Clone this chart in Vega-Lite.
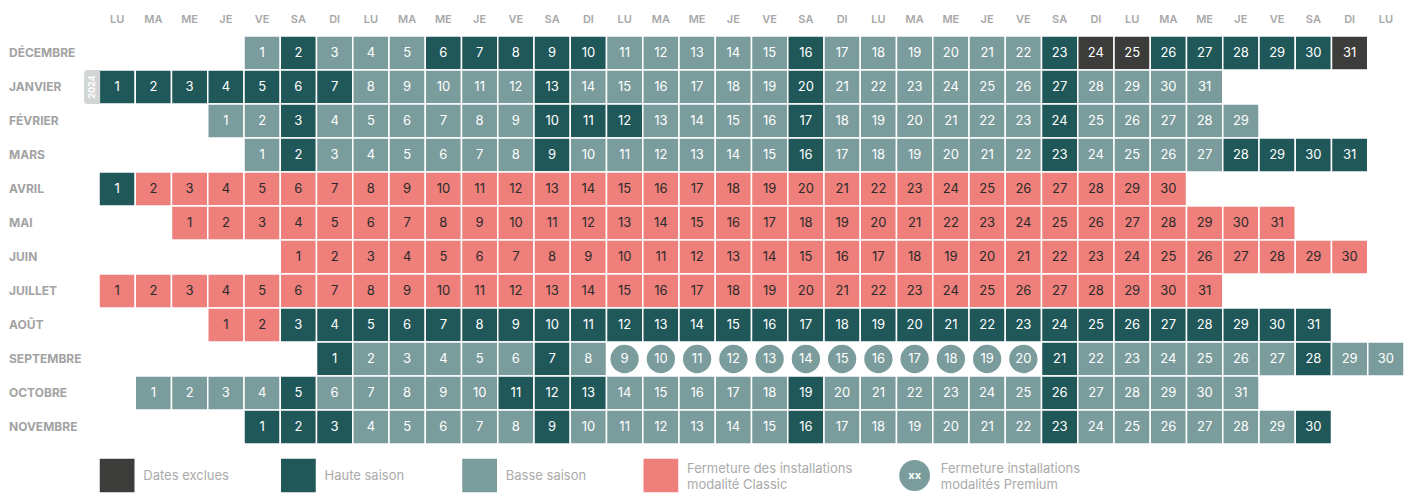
{
"$schema": "https://vega.github.io/schema/vega-lite/v6.json",
"padding": {"left": 8, "top": 13, "right": 0, "bottom": 0},
"spacing": 12,
"config": {"view": {"stroke": null}, "font": "Inter"},
"datasets": {
"cal": [
{"m":"DÉCEMBRE","d":1,"c":4,"k":"B"},{"m":"DÉCEMBRE","d":2,"c":5,"k":"H"},{"m":"DÉCEMBRE","d":3,"c":6,"k":"B"},{"m":"DÉCEMBRE","d":4,"c":7,"k":"B"},{"m":"DÉCEMBRE","d":5,"c":8,"k":"B"},{"m":"DÉCEMBRE","d":6,"c":9,"k":"H"},{"m":"DÉCEMBRE","d":7,"c":10,"k":"H"},{"m":"DÉCEMBRE","d":8,"c":11,"k":"H"},{"m":"DÉCEMBRE","d":9,"c":12,"k":"H"},{"m":"DÉCEMBRE","d":10,"c":13,"k":"H"},{"m":"DÉCEMBRE","d":11,"c":14,"k":"B"},{"m":"DÉCEMBRE","d":12,"c":15,"k":"B"},{"m":"DÉCEMBRE","d":13,"c":16,"k":"B"},{"m":"DÉCEMBRE","d":14,"c":17,"k":"B"},{"m":"DÉCEMBRE","d":15,"c":18,"k":"B"},{"m":"DÉCEMBRE","d":16,"c":19,"k":"H"},{"m":"DÉCEMBRE","d":17,"c":20,"k":"B"},{"m":"DÉCEMBRE","d":18,"c":21,"k":"B"},{"m":"DÉCEMBRE","d":19,"c":22,"k":"B"},{"m":"DÉCEMBRE","d":20,"c":23,"k":"B"},{"m":"DÉCEMBRE","d":21,"c":24,"k":"B"},{"m":"DÉCEMBRE","d":22,"c":25,"k":"B"},{"m":"DÉCEMBRE","d":23,"c":26,"k":"H"},{"m":"DÉCEMBRE","d":24,"c":27,"k":"E"},{"m":"DÉCEMBRE","d":25,"c":28,"k":"E"},{"m":"DÉCEMBRE","d":26,"c":29,"k":"H"},{"m":"DÉCEMBRE","d":27,"c":30,"k":"H"},{"m":"DÉCEMBRE","d":28,"c":31,"k":"H"},{"m":"DÉCEMBRE","d":29,"c":32,"k":"H"},{"m":"DÉCEMBRE","d":30,"c":33,"k":"H"},{"m":"DÉCEMBRE","d":31,"c":34,"k":"E"},
{"m":"JANVIER","d":1,"c":0,"k":"H"},{"m":"JANVIER","d":2,"c":1,"k":"H"},{"m":"JANVIER","d":3,"c":2,"k":"H"},{"m":"JANVIER","d":4,"c":3,"k":"H"},{"m":"JANVIER","d":5,"c":4,"k":"H"},{"m":"JANVIER","d":6,"c":5,"k":"H"},{"m":"JANVIER","d":7,"c":6,"k":"H"},{"m":"JANVIER","d":8,"c":7,"k":"B"},{"m":"JANVIER","d":9,"c":8,"k":"B"},{"m":"JANVIER","d":10,"c":9,"k":"B"},{"m":"JANVIER","d":11,"c":10,"k":"B"},{"m":"JANVIER","d":12,"c":11,"k":"B"},{"m":"JANVIER","d":13,"c":12,"k":"H"},{"m":"JANVIER","d":14,"c":13,"k":"B"},{"m":"JANVIER","d":15,"c":14,"k":"B"},{"m":"JANVIER","d":16,"c":15,"k":"B"},{"m":"JANVIER","d":17,"c":16,"k":"B"},{"m":"JANVIER","d":18,"c":17,"k":"B"},{"m":"JANVIER","d":19,"c":18,"k":"B"},{"m":"JANVIER","d":20,"c":19,"k":"H"},{"m":"JANVIER","d":21,"c":20,"k":"B"},{"m":"JANVIER","d":22,"c":21,"k":"B"},{"m":"JANVIER","d":23,"c":22,"k":"B"},{"m":"JANVIER","d":24,"c":23,"k":"B"},{"m":"JANVIER","d":25,"c":24,"k":"B"},{"m":"JANVIER","d":26,"c":25,"k":"B"},{"m":"JANVIER","d":27,"c":26,"k":"H"},{"m":"JANVIER","d":28,"c":27,"k":"B"},{"m":"JANVIER","d":29,"c":28,"k":"B"},{"m":"JANVIER","d":30,"c":29,"k":"B"},{"m":"JANVIER","d":31,"c":30,"k":"B"},
{"m":"FÉVRIER","d":1,"c":3,"k":"B"},{"m":"FÉVRIER","d":2,"c":4,"k":"B"},{"m":"FÉVRIER","d":3,"c":5,"k":"H"},{"m":"FÉVRIER","d":4,"c":6,"k":"B"},{"m":"FÉVRIER","d":5,"c":7,"k":"B"},{"m":"FÉVRIER","d":6,"c":8,"k":"B"},{"m":"FÉVRIER","d":7,"c":9,"k":"B"},{"m":"FÉVRIER","d":8,"c":10,"k":"B"},{"m":"FÉVRIER","d":9,"c":11,"k":"B"},{"m":"FÉVRIER","d":10,"c":12,"k":"H"},{"m":"FÉVRIER","d":11,"c":13,"k":"H"},{"m":"FÉVRIER","d":12,"c":14,"k":"H"},{"m":"FÉVRIER","d":13,"c":15,"k":"B"},{"m":"FÉVRIER","d":14,"c":16,"k":"B"},{"m":"FÉVRIER","d":15,"c":17,"k":"B"},{"m":"FÉVRIER","d":16,"c":18,"k":"B"},{"m":"FÉVRIER","d":17,"c":19,"k":"H"},{"m":"FÉVRIER","d":18,"c":20,"k":"B"},{"m":"FÉVRIER","d":19,"c":21,"k":"B"},{"m":"FÉVRIER","d":20,"c":22,"k":"B"},{"m":"FÉVRIER","d":21,"c":23,"k":"B"},{"m":"FÉVRIER","d":22,"c":24,"k":"B"},{"m":"FÉVRIER","d":23,"c":25,"k":"B"},{"m":"FÉVRIER","d":24,"c":26,"k":"H"},{"m":"FÉVRIER","d":25,"c":27,"k":"B"},{"m":"FÉVRIER","d":26,"c":28,"k":"B"},{"m":"FÉVRIER","d":27,"c":29,"k":"B"},{"m":"FÉVRIER","d":28,"c":30,"k":"B"},{"m":"FÉVRIER","d":29,"c":31,"k":"B"},
{"m":"MARS","d":1,"c":4,"k":"B"},{"m":"MARS","d":2,"c":5,"k":"H"},{"m":"MARS","d":3,"c":6,"k":"B"},{"m":"MARS","d":4,"c":7,"k":"B"},{"m":"MARS","d":5,"c":8,"k":"B"},{"m":"MARS","d":6,"c":9,"k":"B"},{"m":"MARS","d":7,"c":10,"k":"B"},{"m":"MARS","d":8,"c":11,"k":"B"},{"m":"MARS","d":9,"c":12,"k":"H"},{"m":"MARS","d":10,"c":13,"k":"B"},{"m":"MARS","d":11,"c":14,"k":"B"},{"m":"MARS","d":12,"c":15,"k":"B"},{"m":"MARS","d":13,"c":16,"k":"B"},{"m":"MARS","d":14,"c":17,"k":"B"},{"m":"MARS","d":15,"c":18,"k":"B"},{"m":"MARS","d":16,"c":19,"k":"H"},{"m":"MARS","d":17,"c":20,"k":"B"},{"m":"MARS","d":18,"c":21,"k":"B"},{"m":"MARS","d":19,"c":22,"k":"B"},{"m":"MARS","d":20,"c":23,"k":"B"},{"m":"MARS","d":21,"c":24,"k":"B"},{"m":"MARS","d":22,"c":25,"k":"B"},{"m":"MARS","d":23,"c":26,"k":"H"},{"m":"MARS","d":24,"c":27,"k":"B"},{"m":"MARS","d":25,"c":28,"k":"B"},{"m":"MARS","d":26,"c":29,"k":"B"},{"m":"MARS","d":27,"c":30,"k":"B"},{"m":"MARS","d":28,"c":31,"k":"H"},{"m":"MARS","d":29,"c":32,"k":"H"},{"m":"MARS","d":30,"c":33,"k":"H"},{"m":"MARS","d":31,"c":34,"k":"H"},
{"m":"AVRIL","d":1,"c":0,"k":"H"},{"m":"AVRIL","d":2,"c":1,"k":"C"},{"m":"AVRIL","d":3,"c":2,"k":"C"},{"m":"AVRIL","d":4,"c":3,"k":"C"},{"m":"AVRIL","d":5,"c":4,"k":"C"},{"m":"AVRIL","d":6,"c":5,"k":"C"},{"m":"AVRIL","d":7,"c":6,"k":"C"},{"m":"AVRIL","d":8,"c":7,"k":"C"},{"m":"AVRIL","d":9,"c":8,"k":"C"},{"m":"AVRIL","d":10,"c":9,"k":"C"},{"m":"AVRIL","d":11,"c":10,"k":"C"},{"m":"AVRIL","d":12,"c":11,"k":"C"},{"m":"AVRIL","d":13,"c":12,"k":"C"},{"m":"AVRIL","d":14,"c":13,"k":"C"},{"m":"AVRIL","d":15,"c":14,"k":"C"},{"m":"AVRIL","d":16,"c":15,"k":"C"},{"m":"AVRIL","d":17,"c":16,"k":"C"},{"m":"AVRIL","d":18,"c":17,"k":"C"},{"m":"AVRIL","d":19,"c":18,"k":"C"},{"m":"AVRIL","d":20,"c":19,"k":"C"},{"m":"AVRIL","d":21,"c":20,"k":"C"},{"m":"AVRIL","d":22,"c":21,"k":"C"},{"m":"AVRIL","d":23,"c":22,"k":"C"},{"m":"AVRIL","d":24,"c":23,"k":"C"},{"m":"AVRIL","d":25,"c":24,"k":"C"},{"m":"AVRIL","d":26,"c":25,"k":"C"},{"m":"AVRIL","d":27,"c":26,"k":"C"},{"m":"AVRIL","d":28,"c":27,"k":"C"},{"m":"AVRIL","d":29,"c":28,"k":"C"},{"m":"AVRIL","d":30,"c":29,"k":"C"},
{"m":"MAI","d":1,"c":2,"k":"C"},{"m":"MAI","d":2,"c":3,"k":"C"},{"m":"MAI","d":3,"c":4,"k":"C"},{"m":"MAI","d":4,"c":5,"k":"C"},{"m":"MAI","d":5,"c":6,"k":"C"},{"m":"MAI","d":6,"c":7,"k":"C"},{"m":"MAI","d":7,"c":8,"k":"C"},{"m":"MAI","d":8,"c":9,"k":"C"},{"m":"MAI","d":9,"c":10,"k":"C"},{"m":"MAI","d":10,"c":11,"k":"C"},{"m":"MAI","d":11,"c":12,"k":"C"},{"m":"MAI","d":12,"c":13,"k":"C"},{"m":"MAI","d":13,"c":14,"k":"C"},{"m":"MAI","d":14,"c":15,"k":"C"},{"m":"MAI","d":15,"c":16,"k":"C"},{"m":"MAI","d":16,"c":17,"k":"C"},{"m":"MAI","d":17,"c":18,"k":"C"},{"m":"MAI","d":18,"c":19,"k":"C"},{"m":"MAI","d":19,"c":20,"k":"C"},{"m":"MAI","d":20,"c":21,"k":"C"},{"m":"MAI","d":21,"c":22,"k":"C"},{"m":"MAI","d":22,"c":23,"k":"C"},{"m":"MAI","d":23,"c":24,"k":"C"},{"m":"MAI","d":24,"c":25,"k":"C"},{"m":"MAI","d":25,"c":26,"k":"C"},{"m":"MAI","d":26,"c":27,"k":"C"},{"m":"MAI","d":27,"c":28,"k":"C"},{"m":"MAI","d":28,"c":29,"k":"C"},{"m":"MAI","d":29,"c":30,"k":"C"},{"m":"MAI","d":30,"c":31,"k":"C"},{"m":"MAI","d":31,"c":32,"k":"C"},
{"m":"JUIN","d":1,"c":5,"k":"C"},{"m":"JUIN","d":2,"c":6,"k":"C"},{"m":"JUIN","d":3,"c":7,"k":"C"},{"m":"JUIN","d":4,"c":8,"k":"C"},{"m":"JUIN","d":5,"c":9,"k":"C"},{"m":"JUIN","d":6,"c":10,"k":"C"},{"m":"JUIN","d":7,"c":11,"k":"C"},{"m":"JUIN","d":8,"c":12,"k":"C"},{"m":"JUIN","d":9,"c":13,"k":"C"},{"m":"JUIN","d":10,"c":14,"k":"C"},{"m":"JUIN","d":11,"c":15,"k":"C"},{"m":"JUIN","d":12,"c":16,"k":"C"},{"m":"JUIN","d":13,"c":17,"k":"C"},{"m":"JUIN","d":14,"c":18,"k":"C"},{"m":"JUIN","d":15,"c":19,"k":"C"},{"m":"JUIN","d":16,"c":20,"k":"C"},{"m":"JUIN","d":17,"c":21,"k":"C"},{"m":"JUIN","d":18,"c":22,"k":"C"},{"m":"JUIN","d":19,"c":23,"k":"C"},{"m":"JUIN","d":20,"c":24,"k":"C"},{"m":"JUIN","d":21,"c":25,"k":"C"},{"m":"JUIN","d":22,"c":26,"k":"C"},{"m":"JUIN","d":23,"c":27,"k":"C"},{"m":"JUIN","d":24,"c":28,"k":"C"},{"m":"JUIN","d":25,"c":29,"k":"C"},{"m":"JUIN","d":26,"c":30,"k":"C"},{"m":"JUIN","d":27,"c":31,"k":"C"},{"m":"JUIN","d":28,"c":32,"k":"C"},{"m":"JUIN","d":29,"c":33,"k":"C"},{"m":"JUIN","d":30,"c":34,"k":"C"},
{"m":"JUILLET","d":1,"c":0,"k":"C"},{"m":"JUILLET","d":2,"c":1,"k":"C"},{"m":"JUILLET","d":3,"c":2,"k":"C"},{"m":"JUILLET","d":4,"c":3,"k":"C"},{"m":"JUILLET","d":5,"c":4,"k":"C"},{"m":"JUILLET","d":6,"c":5,"k":"C"},{"m":"JUILLET","d":7,"c":6,"k":"C"},{"m":"JUILLET","d":8,"c":7,"k":"C"},{"m":"JUILLET","d":9,"c":8,"k":"C"},{"m":"JUILLET","d":10,"c":9,"k":"C"},{"m":"JUILLET","d":11,"c":10,"k":"C"},{"m":"JUILLET","d":12,"c":11,"k":"C"},{"m":"JUILLET","d":13,"c":12,"k":"C"},{"m":"JUILLET","d":14,"c":13,"k":"C"},{"m":"JUILLET","d":15,"c":14,"k":"C"},{"m":"JUILLET","d":16,"c":15,"k":"C"},{"m":"JUILLET","d":17,"c":16,"k":"C"},{"m":"JUILLET","d":18,"c":17,"k":"C"},{"m":"JUILLET","d":19,"c":18,"k":"C"},{"m":"JUILLET","d":20,"c":19,"k":"C"},{"m":"JUILLET","d":21,"c":20,"k":"C"},{"m":"JUILLET","d":22,"c":21,"k":"C"},{"m":"JUILLET","d":23,"c":22,"k":"C"},{"m":"JUILLET","d":24,"c":23,"k":"C"},{"m":"JUILLET","d":25,"c":24,"k":"C"},{"m":"JUILLET","d":26,"c":25,"k":"C"},{"m":"JUILLET","d":27,"c":26,"k":"C"},{"m":"JUILLET","d":28,"c":27,"k":"C"},{"m":"JUILLET","d":29,"c":28,"k":"C"},{"m":"JUILLET","d":30,"c":29,"k":"C"},{"m":"JUILLET","d":31,"c":30,"k":"C"},
{"m":"AOÛT","d":1,"c":3,"k":"C"},{"m":"AOÛT","d":2,"c":4,"k":"C"},{"m":"AOÛT","d":3,"c":5,"k":"H"},{"m":"AOÛT","d":4,"c":6,"k":"H"},{"m":"AOÛT","d":5,"c":7,"k":"H"},{"m":"AOÛT","d":6,"c":8,"k":"H"},{"m":"AOÛT","d":7,"c":9,"k":"H"},{"m":"AOÛT","d":8,"c":10,"k":"H"},{"m":"AOÛT","d":9,"c":11,"k":"H"},{"m":"AOÛT","d":10,"c":12,"k":"H"},{"m":"AOÛT","d":11,"c":13,"k":"H"},{"m":"AOÛT","d":12,"c":14,"k":"H"},{"m":"AOÛT","d":13,"c":15,"k":"H"},{"m":"AOÛT","d":14,"c":16,"k":"H"},{"m":"AOÛT","d":15,"c":17,"k":"H"},{"m":"AOÛT","d":16,"c":18,"k":"H"},{"m":"AOÛT","d":17,"c":19,"k":"H"},{"m":"AOÛT","d":18,"c":20,"k":"H"},{"m":"AOÛT","d":19,"c":21,"k":"H"},{"m":"AOÛT","d":20,"c":22,"k":"H"},{"m":"AOÛT","d":21,"c":23,"k":"H"},{"m":"AOÛT","d":22,"c":24,"k":"H"},{"m":"AOÛT","d":23,"c":25,"k":"H"},{"m":"AOÛT","d":24,"c":26,"k":"H"},{"m":"AOÛT","d":25,"c":27,"k":"H"},{"m":"AOÛT","d":26,"c":28,"k":"H"},{"m":"AOÛT","d":27,"c":29,"k":"H"},{"m":"AOÛT","d":28,"c":30,"k":"H"},{"m":"AOÛT","d":29,"c":31,"k":"H"},{"m":"AOÛT","d":30,"c":32,"k":"H"},{"m":"AOÛT","d":31,"c":33,"k":"H"},
{"m":"SEPTEMBRE","d":1,"c":6,"k":"H"},{"m":"SEPTEMBRE","d":2,"c":7,"k":"B"},{"m":"SEPTEMBRE","d":3,"c":8,"k":"B"},{"m":"SEPTEMBRE","d":4,"c":9,"k":"B"},{"m":"SEPTEMBRE","d":5,"c":10,"k":"B"},{"m":"SEPTEMBRE","d":6,"c":11,"k":"B"},{"m":"SEPTEMBRE","d":7,"c":12,"k":"H"},{"m":"SEPTEMBRE","d":8,"c":13,"k":"B"},{"m":"SEPTEMBRE","d":9,"c":14,"k":"P"},{"m":"SEPTEMBRE","d":10,"c":15,"k":"P"},{"m":"SEPTEMBRE","d":11,"c":16,"k":"P"},{"m":"SEPTEMBRE","d":12,"c":17,"k":"P"},{"m":"SEPTEMBRE","d":13,"c":18,"k":"P"},{"m":"SEPTEMBRE","d":14,"c":19,"k":"P"},{"m":"SEPTEMBRE","d":15,"c":20,"k":"P"},{"m":"SEPTEMBRE","d":16,"c":21,"k":"P"},{"m":"SEPTEMBRE","d":17,"c":22,"k":"P"},{"m":"SEPTEMBRE","d":18,"c":23,"k":"P"},{"m":"SEPTEMBRE","d":19,"c":24,"k":"P"},{"m":"SEPTEMBRE","d":20,"c":25,"k":"P"},{"m":"SEPTEMBRE","d":21,"c":26,"k":"H"},{"m":"SEPTEMBRE","d":22,"c":27,"k":"B"},{"m":"SEPTEMBRE","d":23,"c":28,"k":"B"},{"m":"SEPTEMBRE","d":24,"c":29,"k":"B"},{"m":"SEPTEMBRE","d":25,"c":30,"k":"B"},{"m":"SEPTEMBRE","d":26,"c":31,"k":"B"},{"m":"SEPTEMBRE","d":27,"c":32,"k":"B"},{"m":"SEPTEMBRE","d":28,"c":33,"k":"H"},{"m":"SEPTEMBRE","d":29,"c":34,"k":"B"},{"m":"SEPTEMBRE","d":30,"c":35,"k":"B"},
{"m":"OCTOBRE","d":1,"c":1,"k":"B"},{"m":"OCTOBRE","d":2,"c":2,"k":"B"},{"m":"OCTOBRE","d":3,"c":3,"k":"B"},{"m":"OCTOBRE","d":4,"c":4,"k":"B"},{"m":"OCTOBRE","d":5,"c":5,"k":"H"},{"m":"OCTOBRE","d":6,"c":6,"k":"B"},{"m":"OCTOBRE","d":7,"c":7,"k":"B"},{"m":"OCTOBRE","d":8,"c":8,"k":"B"},{"m":"OCTOBRE","d":9,"c":9,"k":"B"},{"m":"OCTOBRE","d":10,"c":10,"k":"B"},{"m":"OCTOBRE","d":11,"c":11,"k":"H"},{"m":"OCTOBRE","d":12,"c":12,"k":"H"},{"m":"OCTOBRE","d":13,"c":13,"k":"H"},{"m":"OCTOBRE","d":14,"c":14,"k":"B"},{"m":"OCTOBRE","d":15,"c":15,"k":"B"},{"m":"OCTOBRE","d":16,"c":16,"k":"B"},{"m":"OCTOBRE","d":17,"c":17,"k":"B"},{"m":"OCTOBRE","d":18,"c":18,"k":"B"},{"m":"OCTOBRE","d":19,"c":19,"k":"H"},{"m":"OCTOBRE","d":20,"c":20,"k":"B"},{"m":"OCTOBRE","d":21,"c":21,"k":"B"},{"m":"OCTOBRE","d":22,"c":22,"k":"B"},{"m":"OCTOBRE","d":23,"c":23,"k":"B"},{"m":"OCTOBRE","d":24,"c":24,"k":"B"},{"m":"OCTOBRE","d":25,"c":25,"k":"B"},{"m":"OCTOBRE","d":26,"c":26,"k":"H"},{"m":"OCTOBRE","d":27,"c":27,"k":"B"},{"m":"OCTOBRE","d":28,"c":28,"k":"B"},{"m":"OCTOBRE","d":29,"c":29,"k":"B"},{"m":"OCTOBRE","d":30,"c":30,"k":"B"},{"m":"OCTOBRE","d":31,"c":31,"k":"B"},
{"m":"NOVEMBRE","d":1,"c":4,"k":"H"},{"m":"NOVEMBRE","d":2,"c":5,"k":"H"},{"m":"NOVEMBRE","d":3,"c":6,"k":"H"},{"m":"NOVEMBRE","d":4,"c":7,"k":"B"},{"m":"NOVEMBRE","d":5,"c":8,"k":"B"},{"m":"NOVEMBRE","d":6,"c":9,"k":"B"},{"m":"NOVEMBRE","d":7,"c":10,"k":"B"},{"m":"NOVEMBRE","d":8,"c":11,"k":"B"},{"m":"NOVEMBRE","d":9,"c":12,"k":"H"},{"m":"NOVEMBRE","d":10,"c":13,"k":"B"},{"m":"NOVEMBRE","d":11,"c":14,"k":"B"},{"m":"NOVEMBRE","d":12,"c":15,"k":"B"},{"m":"NOVEMBRE","d":13,"c":16,"k":"B"},{"m":"NOVEMBRE","d":14,"c":17,"k":"B"},{"m":"NOVEMBRE","d":15,"c":18,"k":"B"},{"m":"NOVEMBRE","d":16,"c":19,"k":"H"},{"m":"NOVEMBRE","d":17,"c":20,"k":"B"},{"m":"NOVEMBRE","d":18,"c":21,"k":"B"},{"m":"NOVEMBRE","d":19,"c":22,"k":"B"},{"m":"NOVEMBRE","d":20,"c":23,"k":"B"},{"m":"NOVEMBRE","d":21,"c":24,"k":"B"},{"m":"NOVEMBRE","d":22,"c":25,"k":"B"},{"m":"NOVEMBRE","d":23,"c":26,"k":"H"},{"m":"NOVEMBRE","d":24,"c":27,"k":"B"},{"m":"NOVEMBRE","d":25,"c":28,"k":"B"},{"m":"NOVEMBRE","d":26,"c":29,"k":"B"},{"m":"NOVEMBRE","d":27,"c":30,"k":"B"},{"m":"NOVEMBRE","d":28,"c":31,"k":"B"},{"m":"NOVEMBRE","d":29,"c":32,"k":"B"},{"m":"NOVEMBRE","d":30,"c":33,"k":"H"}
],
"leg": [
{"c":0,"k":"E","label":"Dates exclues"},
{"c":5,"k":"H","label":"Haute saison"},
{"c":10,"k":"B","label":"Basse saison"},
{"c":15,"k":"C","label":"Fermeture des installations\nmodalité Classic"},
{"c":22,"k":"P","label":"Fermeture installations\nmodalités Premium","sym":"xx"}
]
},
"vconcat": [
{
"width": 1305,
"height": 408,
"data": {"name": "cal"},
"encoding": {
"x": {"field": "c", "type": "ordinal",
"scale": {"domain": [0,1,2,3,4,5,6,7,8,9,10,11,12,13,14,15,16,17,18,19,20,21,22,23,24,25,26,27,28,29,30,31,32,33,34,35], "paddingInner": 0, "paddingOuter": 0},
"axis": {"orient": "top", "title": null, "domain": false, "ticks": false, "tickSize": 0, "labelPadding": 12, "labelAngle": 0,
"labelExpr": "['LU','MA','ME','JE','VE','SA','DI'][datum.value % 7]",
"labelFontSize": 11, "labelFontWeight": 600, "labelColor": "#a8a8a8", "labelFont": "Inter"}},
"y": {"field": "m", "type": "ordinal",
"scale": {"domain": ["DÉCEMBRE","JANVIER","FÉVRIER","MARS","AVRIL","MAI","JUIN","JUILLET","AOÛT","SEPTEMBRE","OCTOBRE","NOVEMBRE"], "paddingInner": 0, "paddingOuter": 0},
"axis": {"title": null, "domain": false, "ticks": false, "tickSize": 0, "labelPadding": 90.5, "labelAlign": "left",
"labelFontSize": 12, "labelFontWeight": "bold", "labelColor": "#a3a3a3", "labelFont": "Inter"}}
},
"layer": [
{"transform": [{"filter": "datum.k != 'P'"}],
"mark": {"type": "rect", "stroke": "white", "strokeWidth": 1.5},
"encoding": {"color": {"field": "k", "type": "nominal",
"scale": {"domain": ["E","H","B","C","P"], "range": ["#3c3c3b","#20585a","#7a9c9c","#ee7f7a","#7a9c9c"]}, "legend": null}}},
{"transform": [{"filter": "datum.k == 'P'"}],
"mark": {"type": "circle", "size": 800, "opacity": 1, "color": "#7a9c9c"}},
{"mark": {"type": "text", "fontSize": 13, "font": "Inter"},
"encoding": {"text": {"field": "d"},
"color": {"condition": {"test": "datum.k == 'C'", "value": "#2b2b2b"}, "value": "white"}}},
{"data": {"values": [{"m": "JANVIER", "c": 0}]},
"mark": {"type": "rect", "width": 16, "xOffset": -25, "cornerRadiusTopLeft": 3, "cornerRadiusBottomLeft": 3, "color": "#d2d5d5"}},
{"data": {"values": [{"m": "JANVIER", "c": 0, "t": "2024"}]},
"mark": {"type": "text", "angle": 270, "xOffset": -25, "fontSize": 9, "fontWeight": "bold", "color": "white", "letterSpacing": 1.5, "font": "Inter"},
"encoding": {"text": {"field": "t"}}}
]
},
{
"width": 1305,
"height": 35,
"data": {"name": "leg"},
"encoding": {
"x": {"field": "c", "type": "ordinal",
"scale": {"domain": [0,1,2,3,4,5,6,7,8,9,10,11,12,13,14,15,16,17,18,19,20,21,22,23,24,25,26,27,28,29,30,31,32,33,34,35], "paddingInner": 0, "paddingOuter": 0},
"axis": null}
},
"layer": [
{"transform": [{"filter": "datum.k != 'P'"}],
"mark": {"type": "rect", "stroke": "white", "strokeWidth": 1.5},
"encoding": {"color": {"field": "k", "type": "nominal",
"scale": {"domain": ["E","H","B","C","P"], "range": ["#3c3c3b","#20585a","#7a9c9c","#ee7f7a","#7a9c9c"]}, "legend": null}}},
{"transform": [{"filter": "datum.k == 'P'"}],
"mark": {"type": "circle", "size": 950, "opacity": 1, "color": "#7a9c9c"}},
{"transform": [{"filter": "datum.k == 'P'"}],
"mark": {"type": "text", "fontSize": 11, "fontWeight": "bold", "color": "white", "font": "Inter"},
"encoding": {"text": {"field": "sym"}}},
{"transform": [{"filter": "datum.k != 'C' && datum.k != 'P'"}],
"mark": {"type": "text", "align": "left", "dx": 8, "fontSize": 13, "color": "#aaaaaa", "font": "Inter"},
"encoding": {"x": {"field": "c", "type": "ordinal", "bandPosition": 1}, "text": {"field": "label"}}},
{"transform": [{"filter": "datum.k == 'C' || datum.k == 'P'"}],
"mark": {"type": "text", "align": "left", "dx": 8, "dy": -7, "fontSize": 13, "color": "#aaaaaa", "lineBreak": "\n", "lineHeight": 16, "font": "Inter"},
"encoding": {"x": {"field": "c", "type": "ordinal", "bandPosition": 1}, "text": {"field": "label"}}}
]
}
]
}
